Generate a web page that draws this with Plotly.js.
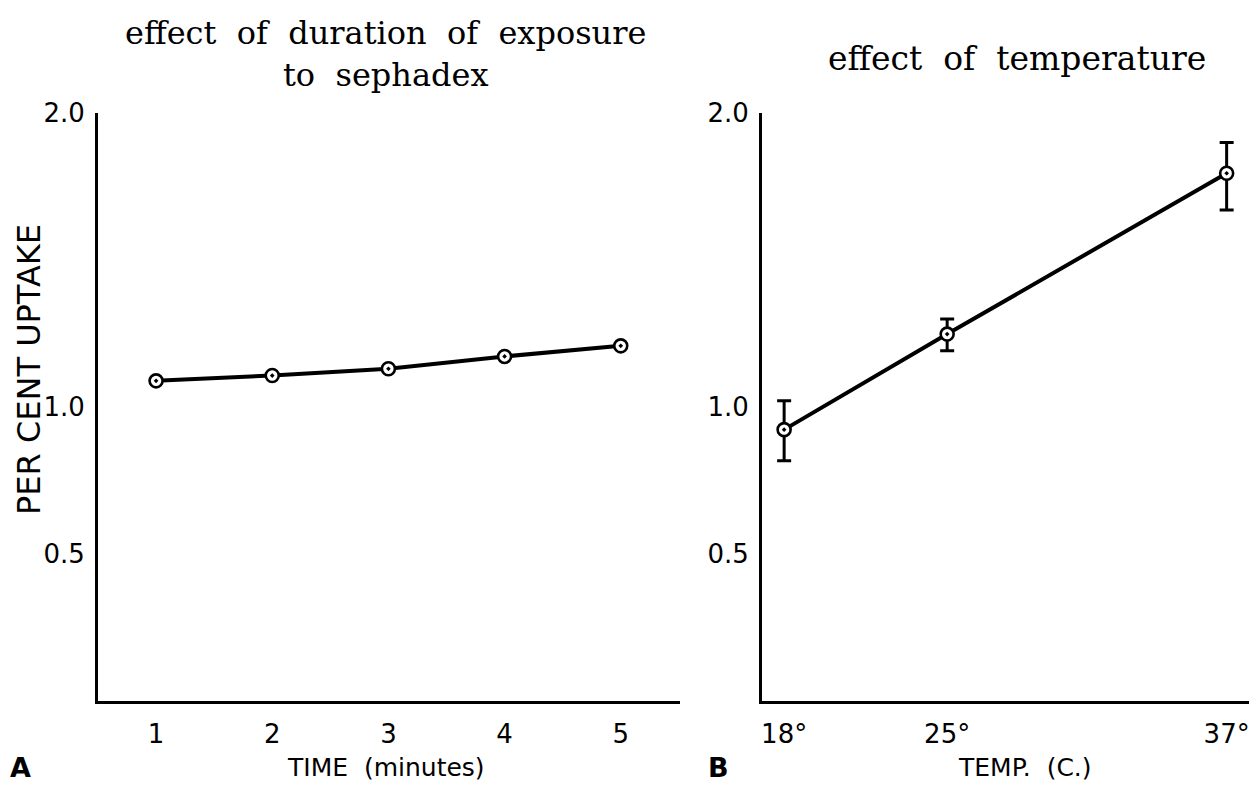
<!DOCTYPE html>
<html>
<head>
<meta charset="utf-8">
<script src="https://cdn.plot.ly/plotly-3.0.1.min.js"></script>
<style>html,body{margin:0;padding:0;background:#fff;}#chart{width:1260px;height:785px;}</style>
</head>
<body>
<div id="chart"></div>
<script>
// Panel A: effect of duration of exposure to sephadex
const timeMinutes = [1, 2, 3, 4, 5];
const uptakeTime = [1.089, 1.107, 1.130, 1.172, 1.208];

// Panel B: effect of temperature
const tempC = [18, 25, 37];
const tempLabels = ["18°", "25°", "37°"];
const uptakeTemp = [0.923, 1.248, 1.795];
const errPlus = [0.098, 0.051, 0.105];
const errMinus = [0.106, 0.057, 0.125];

const yTickVals = [0.5, 1.0, 2.0];
const yTickText = ["0.5", "1.0", "2.0"];

const sans = "'DejaVu Sans', Lato, sans-serif";
const serif = "'DejaVu Serif', 'Liberation Serif', serif";
const sp = '&nbsp; ';

const markerStyle = {symbol: 'circle-dot', size: 13, color: '#fff', line: {color: '#000', width: 2.6}};

const traces = [
  {x: timeMinutes, y: uptakeTime, xaxis: 'x', yaxis: 'y', mode: 'lines+markers',
   line: {color: '#000', width: 4}, marker: markerStyle, hoverinfo: 'x+y'},
  {x: tempC, y: uptakeTemp, xaxis: 'x2', yaxis: 'y2', mode: 'lines+markers',
   line: {color: '#000', width: 4}, marker: markerStyle,
   error_y: {type: 'data', symmetric: false, array: errPlus, arrayminus: errMinus,
             color: '#000', thickness: 3, width: 7}, hoverinfo: 'x+y'}
];

const axisCommon = {showgrid: false, zeroline: false, showline: true, linecolor: '#000', linewidth: 3,
  ticks: '', tickfont: {family: sans, size: 26, color: '#000'}, fixedrange: true};

const layout = {
  width: 1260, height: 785,
  margin: {l: 0, r: 0, t: 0, b: 0},
  paper_bgcolor: '#fff', plot_bgcolor: '#fff',
  showlegend: false,
  xaxis: Object.assign({}, axisCommon, {domain: [98/1260, 680/1260], range: [0.5, 5.51],
    tickvals: timeMinutes, ticktext: timeMinutes.map(String), ticklabelstandoff: 8, anchor: 'y'}),
  yaxis: Object.assign({}, axisCommon, {domain: [84/785, 672/785], range: [0, 2.0],
    tickvals: yTickVals, ticktext: yTickText, ticklabelstandoff: 5, anchor: 'x'}),
  xaxis2: Object.assign({}, axisCommon, {domain: [762/1260, 1249/1260], range: [17.05, 37.96],
    tickvals: tempC, ticktext: tempLabels, ticklabelstandoff: 8, anchor: 'y2'}),
  yaxis2: Object.assign({}, axisCommon, {domain: [84/785, 672/785], range: [0, 2.0],
    tickvals: yTickVals, ticktext: yTickText, ticklabelstandoff: 5, anchor: 'x2'}),
  annotations: [
    {text: ['effect', 'of', 'duration', 'of', 'exposure'].join(sp), x: 385/1260, y: 1 - 33/785, xref: 'paper', yref: 'paper',
     showarrow: false, xanchor: 'center', yanchor: 'middle', font: {family: serif, size: 32, color: '#000'}},
    {text: ['to', 'sephadex'].join(sp), x: 385/1260, y: 1 - 75/785, xref: 'paper', yref: 'paper',
     showarrow: false, xanchor: 'center', yanchor: 'middle', font: {family: serif, size: 32, color: '#000'}},
    {text: ['effect', 'of', 'temperature'].join(sp), x: 1017/1260, y: 1 - 59/785, xref: 'paper', yref: 'paper',
     showarrow: false, xanchor: 'center', yanchor: 'middle', font: {family: serif, size: 33, color: '#000'}},
    {text: 'PER CENT UPTAKE', x: 29/1260, y: 1 - 370/785, xref: 'paper', yref: 'paper', textangle: -90,
     showarrow: false, xanchor: 'center', yanchor: 'middle', font: {family: sans, size: 32, color: '#000'}},
    {text: 'TIME' + sp + '(minutes)', x: 386/1260, y: 1 - 767/785, xref: 'paper', yref: 'paper',
     showarrow: false, xanchor: 'center', yanchor: 'middle', font: {family: sans, size: 25, color: '#000'}},
    {text: 'TEMP.' + sp + '(C.)', x: 1025/1260, y: 1 - 767/785, xref: 'paper', yref: 'paper',
     showarrow: false, xanchor: 'center', yanchor: 'middle', font: {family: sans, size: 25, color: '#000'}},
    {text: '<b>A</b>', x: 20/1260, y: 1 - 767/785, xref: 'paper', yref: 'paper',
     showarrow: false, xanchor: 'center', yanchor: 'middle', font: {family: sans, size: 27, color: '#000'}},
    {text: '<b>B</b>', x: 718/1260, y: 1 - 767/785, xref: 'paper', yref: 'paper',
     showarrow: false, xanchor: 'center', yanchor: 'middle', font: {family: sans, size: 27, color: '#000'}}
  ]
};

Plotly.newPlot('chart', traces, layout, {displayModeBar: false, staticPlot: true});
</script>
</body>
</html>
